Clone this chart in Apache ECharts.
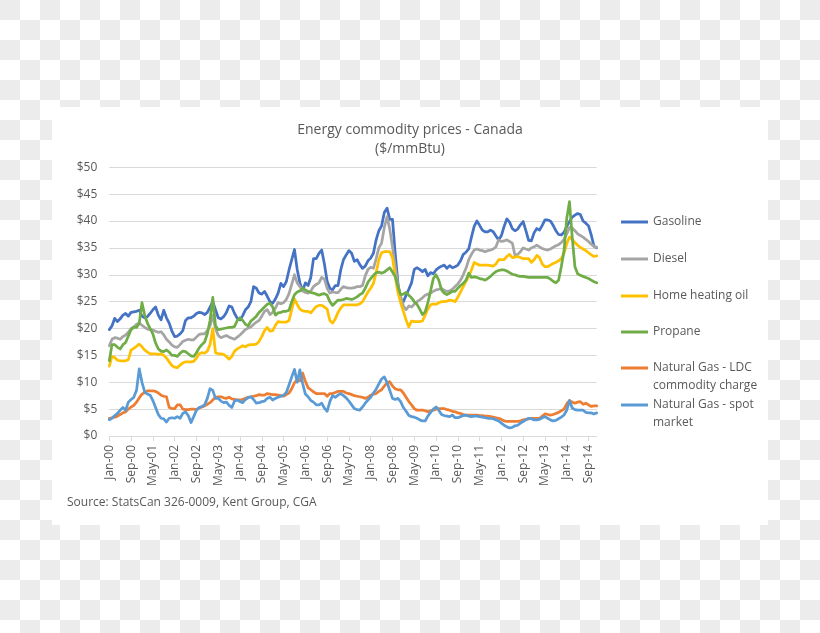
<!DOCTYPE html>
<html>
<head>
<meta charset="utf-8">
<script src="https://cdn.jsdelivr.net/npm/echarts@6/dist/echarts.min.js"></script>
<style>
html,body{margin:0;padding:0;}
body{width:820px;height:633px;background:repeating-conic-gradient(#ffffff 0% 25%, #ececec 0% 50%) 0 0/40px 40px;}
#chart{width:820px;height:633px;}
</style>
</head>
<body>
<div id="chart"></div>
<script>
const monthNames = ['Jan','Feb','Mar','Apr','May','Jun','Jul','Aug','Sep','Oct','Nov','Dec'];
const years = ['00','01','02','03','04','05','06','07','08','09','10','11','12','13','14'];
const categories = [];
years.forEach(y => monthNames.forEach(m => categories.push(m + '-' + y)));

const seriesNames = ['Gasoline','Diesel','Home heating oil','Propane','Natural Gas - LDC commodity charge','Natural Gas - spot market'];
const seriesColors = ['#4472C4','#A5A5A5','#FFC000','#70AD47','#ED7D31','#5B9BD5'];

const gasoline = [
19.8,20.5,21.9,21.3,21.8,22.5,22.8,22.3,23.0,23.1,
23.2,23.4,22.3,22.0,22.2,22.8,23.5,24.0,22.5,21.6,
23.4,22.0,21.0,19.5,18.5,18.6,19.0,19.6,21.5,22.0,
22.0,22.3,22.8,23.0,22.9,22.6,23.0,24.0,25.0,23.5,
22.0,21.8,22.2,23.0,24.2,24.0,22.8,21.9,21.6,22.4,
23.5,24.0,25.0,27.8,27.5,26.6,26.4,26.9,26.0,25.0,
24.7,25.5,26.6,28.4,27.8,28.7,30.9,32.8,34.7,31.0,
28.5,27.0,28.5,28.0,29.5,33.0,33.0,34.0,34.6,32.0,
28.8,27.5,27.2,28.0,28.0,30.9,32.8,33.7,34.5,34.0,
32.5,32.8,31.9,31.2,31.6,32.6,33.1,34.0,36.5,38.2,
39.1,41.6,42.4,40.3,40.3,34.0,28.5,25.2,25.0,26.2,
27.3,28.5,31.0,31.3,31.0,30.6,31.0,29.8,30.4,30.2,
30.9,31.3,31.6,31.8,31.2,31.7,31.3,31.5,31.8,32.6,
33.8,34.2,34.8,37.0,39.0,40.0,39.2,38.3,38.0,38.0,
38.3,38.0,37.2,36.5,37.3,39.0,40.4,39.8,38.6,38.2,
38.5,39.3,39.9,38.2,36.4,36.3,37.8,38.6,38.3,39.2,
40.2,40.2,40.0,39.2,38.2,37.5,37.4,37.9,39.0,39.9,
40.7,41.1,41.4,41.2,40.0,39.6,39.1,37.4,35.3,35.0];

const diesel = [
16.8,18.0,18.3,18.2,18.0,18.5,18.8,19.3,20.0,20.3,
20.8,21.0,20.6,20.2,19.9,19.8,19.7,19.5,19.3,19.4,
18.8,18.0,17.5,16.9,16.6,16.5,17.0,17.6,17.8,18.0,
17.9,17.9,18.4,18.9,19.0,19.0,19.6,20.5,22.5,20.0,
18.7,18.3,18.5,18.7,18.4,18.2,18.0,18.4,18.8,19.3,
19.8,20.1,20.3,20.8,21.2,21.5,22.3,23.2,23.5,22.6,
23.0,23.8,24.8,24.6,24.8,25.4,26.5,28.2,30.0,28.5,
27.8,27.0,26.7,26.6,27.0,27.8,28.2,28.5,29.5,29.2,
27.5,26.6,26.8,26.7,26.7,27.3,27.8,27.6,27.5,27.5,
27.6,27.8,27.8,28.0,29.8,31.0,31.4,31.2,33.0,35.0,
35.9,38.8,40.8,38.5,35.2,31.5,28.0,26.0,24.2,23.5,
24.2,24.0,24.5,25.0,25.3,25.7,26.2,26.4,26.6,26.9,
27.2,27.3,27.5,27.1,26.9,27.0,27.3,27.8,28.3,29.0,
30.0,31.2,32.8,33.8,34.6,34.8,34.6,34.5,34.3,34.5,
34.6,34.8,35.2,36.5,36.2,36.3,36.5,36.2,35.9,33.6,
33.8,34.3,35.0,34.8,34.6,35.0,35.2,35.5,35.2,34.9,
34.7,34.6,34.8,35.1,35.4,35.6,36.0,36.6,37.6,38.8,
38.7,38.2,37.6,37.3,37.0,36.6,36.2,35.7,35.3,35.1];

const heatingOil = [
13.0,14.8,14.6,14.1,14.0,14.0,14.0,14.2,16.0,16.3,
16.7,17.1,16.6,16.0,15.6,15.3,15.3,15.3,15.2,15.3,
15.0,14.5,13.8,13.1,12.8,12.7,13.2,13.6,13.8,13.8,
13.8,13.9,14.5,15.3,15.5,15.4,15.8,17.0,20.0,15.5,
15.3,15.3,15.2,14.8,14.3,14.8,15.8,16.2,16.5,16.8,
16.6,16.9,17.0,17.0,17.1,17.6,18.5,19.6,20.2,19.5,
19.6,20.6,21.3,21.2,21.2,21.2,21.5,23.5,25.5,24.5,
23.6,23.3,23.2,23.2,22.9,23.5,24.1,24.3,24.3,24.0,
23.6,21.5,21.0,21.8,23.0,23.8,24.4,24.4,24.4,24.4,
24.4,24.4,24.6,25.0,25.9,26.8,27.5,28.4,30.4,32.8,
34.1,34.3,34.3,34.3,33.2,29.7,26.7,24.8,23.2,21.6,
20.3,21.4,21.3,21.3,21.3,21.4,22.5,23.6,24.4,24.6,
24.5,24.8,25.0,25.0,25.1,25.3,25.2,25.0,25.8,26.8,
27.8,28.8,29.7,30.9,32.3,32.0,31.8,31.8,31.8,31.8,
31.7,31.6,32.0,32.8,32.8,32.8,33.4,33.8,33.2,33.3,
33.4,33.2,33.0,33.0,33.0,32.3,32.8,33.6,33.2,32.0,
31.5,31.5,31.8,32.1,32.3,32.6,33.0,34.0,35.8,37.0,
36.6,36.0,35.5,35.1,34.8,34.5,34.1,33.7,33.4,33.5];

const propane = [
14.0,17.0,17.0,16.5,16.2,17.0,17.4,18.6,19.8,20.2,
20.2,21.0,24.8,22.5,21.0,20.0,19.0,17.3,16.2,15.8,
15.7,16.0,15.6,15.0,15.0,14.8,15.4,15.8,15.7,15.3,
14.9,14.8,15.5,16.4,17.0,17.5,19.0,21.5,25.8,20.5,
19.8,19.9,20.0,20.1,20.2,20.2,20.4,21.5,22.0,21.5,
20.8,20.5,21.4,21.8,22.3,23.0,23.5,24.0,24.5,24.7,
24.0,22.5,22.9,23.0,23.2,23.2,23.4,25.0,26.3,26.8,
27.0,27.5,27.2,26.9,26.7,26.6,26.4,26.2,26.4,26.5,
26.2,25.0,24.3,24.8,25.3,25.3,25.4,25.6,25.5,25.4,
25.6,25.9,26.3,26.6,27.5,28.6,29.3,29.9,30.4,30.5,
30.3,30.5,30.9,31.3,30.5,29.7,27.8,26.3,26.4,26.7,
26.2,25.7,25.0,24.5,23.6,22.6,23.1,24.8,27.0,29.3,
30.0,29.0,27.2,26.6,26.3,26.6,26.9,26.9,27.5,28.0,
28.4,29.0,30.3,29.5,29.6,29.5,29.3,29.2,29.0,29.3,
29.7,30.2,30.6,30.8,30.9,30.9,30.7,30.4,30.1,30.0,
29.8,29.7,29.7,29.6,29.5,29.5,29.5,29.5,29.5,29.5,
29.5,29.5,29.2,28.8,28.5,29.0,31.5,34.5,40.5,43.6,
37.0,31.5,30.2,29.9,29.7,29.5,29.3,29.0,28.7,28.5];

const gasLdc = [
3.3,3.4,3.5,3.7,4.0,4.3,4.5,5.0,5.4,5.7,
6.3,7.1,7.8,8.1,8.4,8.4,8.4,8.3,8.0,7.6,
7.4,7.3,5.3,5.1,5.1,5.8,5.8,5.0,4.9,4.9,
5.0,5.0,4.9,5.2,5.4,5.6,5.9,6.2,6.7,7.2,
7.3,7.3,7.1,7.0,7.2,6.9,6.8,6.7,6.7,6.8,
7.0,7.2,7.3,7.4,7.5,7.7,7.6,7.6,7.9,7.8,
7.7,7.7,7.6,7.5,7.4,7.7,8.0,8.8,9.9,10.5,
10.3,11.7,10.2,9.0,8.6,8.2,7.9,7.9,7.9,7.9,
7.4,7.9,7.9,8.1,8.3,8.3,8.3,8.0,7.9,7.7,
7.5,7.4,7.3,7.2,7.0,7.2,7.6,7.8,7.9,8.3,
8.6,9.3,9.9,10.1,9.3,8.8,8.6,8.6,8.0,7.2,
6.4,5.8,5.1,4.8,4.8,4.8,4.7,4.5,4.7,4.8,
5.0,5.1,5.1,5.1,4.9,4.8,4.6,4.5,4.3,4.2,
4.0,3.9,3.9,3.9,3.9,3.9,3.8,3.8,3.7,3.7,
3.6,3.5,3.4,3.3,3.1,2.8,2.7,2.7,2.7,2.7,
2.7,2.8,3.0,3.1,3.2,3.3,3.3,3.3,3.3,3.7,
4.1,4.0,3.9,4.0,4.2,4.4,4.7,5.0,6.0,6.6,
6.3,6.1,6.3,6.4,5.9,6.1,5.8,5.5,5.6,5.6];

const gasSpot = [
3.0,3.3,3.8,4.2,4.8,5.3,4.8,6.3,6.8,7.2,
8.5,12.5,10.0,8.2,7.8,7.6,6.6,5.3,4.0,3.3,
3.2,2.6,3.3,3.4,3.3,3.6,3.3,4.2,4.5,3.8,
2.5,3.6,4.8,5.3,5.5,5.8,7.0,8.8,8.5,7.0,
7.0,6.5,6.2,6.3,5.7,5.3,6.5,6.7,6.4,6.2,
6.8,7.1,7.3,6.8,6.1,6.2,6.4,6.5,7.0,7.2,
6.7,7.0,7.2,7.4,7.6,8.1,9.5,11.0,12.4,10.0,
12.3,9.8,7.8,7.3,6.6,6.3,5.8,5.8,6.1,5.2,
4.6,6.4,7.5,7.2,7.6,7.9,7.5,7.1,6.5,5.8,
5.1,4.9,4.8,5.4,6.1,6.7,7.2,8.0,8.7,9.7,
10.6,11.0,10.0,8.5,7.0,6.8,7.0,6.4,5.3,4.6,
3.8,3.6,3.5,3.3,3.0,2.8,2.8,3.7,4.4,5.0,
5.4,4.8,4.0,3.8,3.7,3.6,3.9,3.4,3.4,3.6,
3.8,3.9,3.7,3.6,3.7,3.7,3.6,3.5,3.4,3.3,
3.3,3.2,3.0,2.8,2.4,2.0,1.7,1.5,1.6,1.9,
2.0,2.4,2.7,3.0,3.3,3.2,3.0,3.0,3.1,3.4,
3.6,3.3,3.0,2.8,2.9,3.2,3.5,3.9,4.8,6.6,
5.2,4.9,4.8,4.8,4.8,4.4,4.3,4.3,4.1,4.3];

const seriesData = [gasoline, diesel, heatingOil, propane, gasLdc, gasSpot];
const yTicks = [0,5,10,15,20,25,30,35,40,45,50];

const FONT = '"Open Sans", "Noto Sans", sans-serif';
const TXT = '#595959';
const legendRowY = [221, 258, 295, 331, 367, 404];
const legendFirstLine = ['Gasoline','Diesel','Home heating oil','Propane','Natural Gas - LDC','Natural Gas - spot'];
const legendSecondLine = [null, null, null, null, 'commodity charge', 'market'];

const chart = echarts.init(document.getElementById('chart'), null, {renderer: 'canvas'});

const graphicEls = [{
  type: 'rect', left: 52, top: 107, z: -10,
  shape: {width: 716, height: 418},
  style: {fill: '#ffffff'}
}, {
  type: 'text', left: 67, top: 497,
  style: {text: 'Source: StatsCan 326-0009, Kent Group, CGA', fill: TXT, font: '12px ' + FONT}
}];
legendSecondLine.forEach((t, k) => {
  if (t) graphicEls.push({
    type: 'text', left: 653, top: legendRowY[k] + 13,
    style: {text: t, fill: TXT, font: '12px ' + FONT}
  });
});

chart.setOption({
  animation: false,
  backgroundColor: 'transparent',
  title: {
    text: 'Energy commodity prices - Canada\n($/mmBtu)',
    left: 'center', top: 116,
    textStyle: {fontFamily: FONT, fontSize: 14, fontWeight: 'normal', color: TXT, lineHeight: 19}
  },
  graphic: {elements: graphicEls},
  legend: seriesNames.map((n, k) => ({
    data: [n], left: 621, top: legendRowY[k] - 7, padding: 0,
    icon: 'rect', itemWidth: 27, itemHeight: 3, selectedMode: false,
    formatter: () => legendFirstLine[k],
    textStyle: {fontFamily: FONT, fontSize: 12, color: TXT, lineHeight: 16}
  })),
  grid: {left: 109.3, right: 223.3, top: 167.3, bottom: 197, containLabel: false},
  xAxis: {
    type: 'category', data: categories, boundaryGap: false,
    axisLine: {lineStyle: {color: '#d9d9d9', width: 1}},
    axisTick: {show: true, interval: 7, length: 5, lineStyle: {color: '#d9d9d9'}},
    axisLabel: {interval: 7, rotate: 90, margin: 9, color: TXT, fontFamily: FONT, fontSize: 12},
    splitLine: {show: false}
  },
  yAxis: {
    type: 'value', min: yTicks[0], max: yTicks[yTicks.length - 1], interval: 5,
    axisLine: {show: false}, axisTick: {show: false},
    axisLabel: {formatter: v => '$' + v, color: TXT, fontFamily: FONT, fontSize: 12, margin: 12},
    splitLine: {lineStyle: {color: '#d9d9d9', width: 1}}
  },
  series: seriesNames.map((n, k) => ({
    name: n, type: 'line', data: seriesData[k], symbol: 'none', smooth: false,
    lineStyle: {color: seriesColors[k], width: 2.75, cap: 'round', join: 'round'},
    itemStyle: {color: seriesColors[k]},
    emphasis: {disabled: true}, z: 2 + k
  }))
});
</script>
</body>
</html>
